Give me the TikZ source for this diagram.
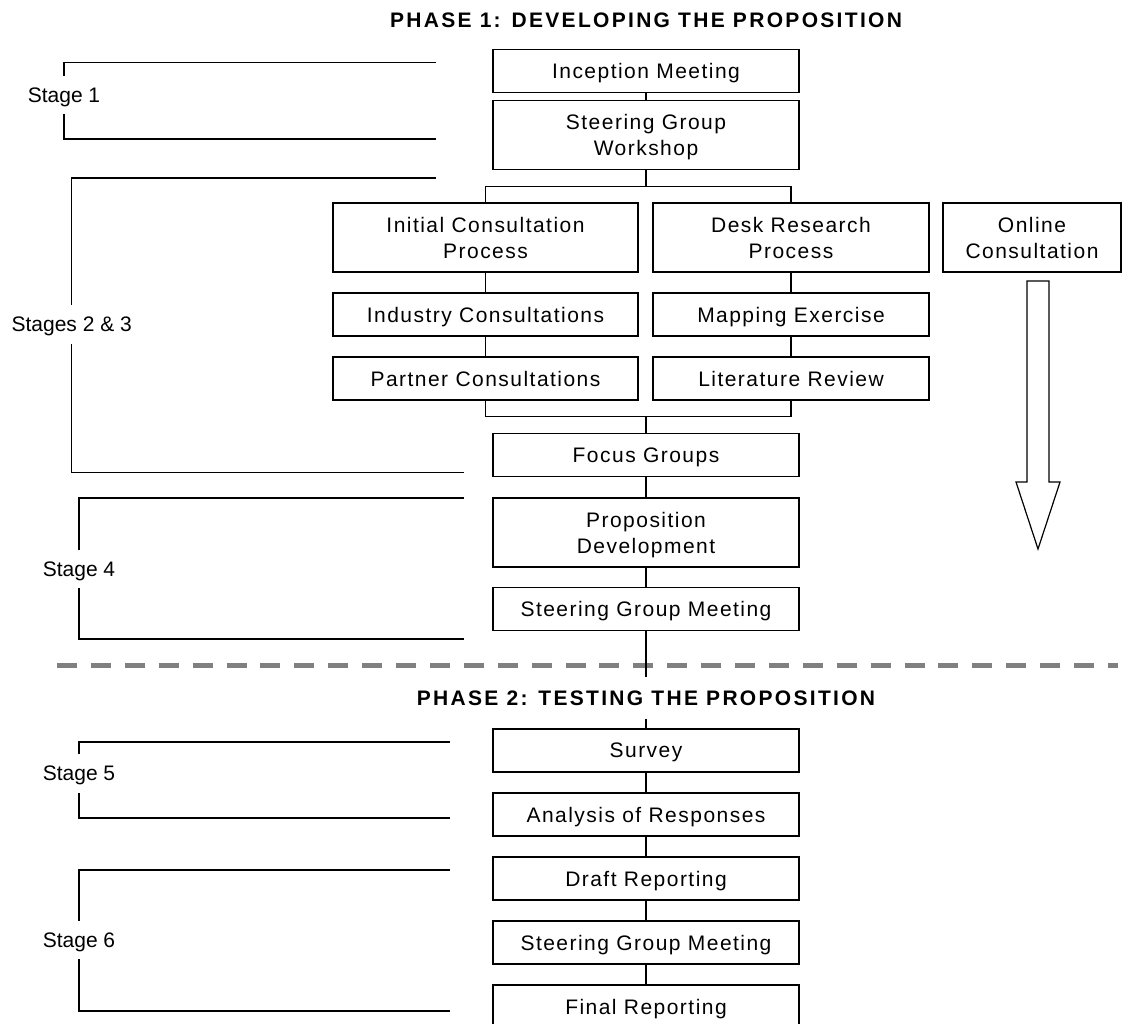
\documentclass[tikz,border=0pt]{standalone}
\usepackage{fontspec}
\setmainfont{Liberation Sans}
\newfontfamily\boxfont[LetterSpace=7]{Liberation Sans}
\newfontfamily\phasefont[LetterSpace=11]{Liberation Sans}
\usetikzlibrary{calc, positioning}
\definecolor{dashgrey}{RGB}{128,128,128}
\tikzset{>=stealth,
  link/.style={line width=1.4pt},
  stepbox/.style={draw, link, minimum width=306pt, minimum height=43pt, inner sep=0pt, text depth=0pt, align=center, font=\boxfont\fontsize{21}{26}\selectfont},
  tallbox/.style={stepbox, minimum height=69pt},
  stagelbl/.style={inner sep=0pt, minimum height=38pt, text depth=0pt, font=\fontsize{21}{26}\selectfont},
  phase/.style={inner sep=0pt, font=\phasefont\bfseries\fontsize{21}{26}\selectfont}}

\begin{document}
\begin{tikzpicture}[x=1pt, y=-1pt]
	\useasboundingbox (0,0) rectangle (1123,1023);

	\node[phase] (ph1) at (646,20) {PHASE 1: DEVELOPING THE PROPOSITION};

	% main column, phase 1
	\node[stepbox] (incep) at (646,71) {Inception Meeting};
	\node[tallbox] (sgw) at (646,135) {Steering Group\\Workshop};
	\node[tallbox, minimum width=305pt] (icp) at (485.5,237.5) {Initial Consultation\\Process};
	\node[tallbox, minimum width=276pt] (drp) at (791,237.5) {Desk Research\\Process};
	\node[tallbox, minimum width=178pt] (online) at (1032,237.5) {Online\\Consultation};
	\node[stepbox, minimum width=305pt] (ic) at (485.5,314.5) {Industry Consultations};
	\node[stepbox, minimum width=276pt] (me) at (791,314.5) {Mapping Exercise};
	\node[stepbox, minimum width=305pt] (pc) at (485.5,378.5) {Partner Consultations};
	\node[stepbox, minimum width=276pt] (lr) at (791,378.5) {Literature Review};
	\node[stepbox] (focus) at (646,455) {Focus Groups};
	\node[tallbox] (propdev) at (646,532.5) {Proposition\\Development};
	\node[stepbox] (sgm1) at (646,609) {Steering Group Meeting};

	\draw[link] (incep) -- (sgw);
	\coordinate (fork) at (646,186.7);
	\draw[link] (sgw) -- (fork);
	\draw[link] (icp.north) |- (fork) -| (drp.north);
	\draw[link] (icp) -- (ic);
	\draw[link] (ic) -- (pc);
	\draw[link] (drp) -- (me);
	\draw[link] (me) -- (lr);
	\coordinate (join) at (646,416.7);
	\draw[link] (pc.south) |- (join) -| (lr.south);
	\draw[link] (join) -- (focus);
	\draw[link] (focus) -- (propdev);
	\draw[link] (propdev) -- (sgm1);

	% block arrow under the online box
	\draw[line width=1.2pt] (1027,281) -- (1049,281) -- (1049,482) -- (1060,482) -- (1038,549) -- (1016,482) -- (1027,482) -- cycle;

	% stage brackets
	\node[stagelbl] (st1) at (64,95) {Stage 1};
	\draw[link] (436,62.7) -| (st1.north);
	\draw[link] (st1.south) |- (436,139);
	\node[stagelbl, minimum height=39pt] (st23) at (71.7,324.5) {Stages 2 \& 3};
	\draw[link] (436,178) -| (st23.north);
	\draw[link] (st23.south) |- (464,472.3);
	\node[stagelbl] (st4) at (79,569) {Stage 4};
	\draw[link] (464,498) -| (st4.north);
	\draw[link] (st4.south) |- (464,639);
	\node[stagelbl, minimum height=39pt] (st5) at (79,773.5) {Stage 5};
	\draw[link] (450,742) -| (st5.north);
	\draw[link] (st5.south) |- (450,818);
	\node[stagelbl] (st6) at (79,940) {Stage 6};
	\draw[link] (450,870) -| (st6.north);
	\draw[link] (st6.south) |- (450,1011);

	% phase divider
	\draw[dashgrey, line width=4.7pt, dash pattern=on 20pt off 13.9pt] (57,665.7) -- (1118,665.7);

	% main column, phase 2
	\node[stepbox] (survey) at (646,750.5) {Survey};
	\node[stepbox] (analysis) at (646,814.5) {Analysis of Responses};
	\node[stepbox] (draft) at (646,878.5) {Draft Reporting};
	\node[stepbox] (sgm2) at (646,942.5) {Steering Group Meeting};
	\node[stepbox] (final) at (646,1006.5) {Final Reporting};

	\draw[link] (sgm1) -- (survey);
	\node[phase, fill=white, minimum height=42pt] (ph2) at (646,698) {PHASE 2: TESTING THE PROPOSITION};
	\draw[link] (survey) -- (analysis);
	\draw[link] (analysis) -- (draft);
	\draw[link] (draft) -- (sgm2);
	\draw[link] (sgm2) -- (final);
\end{tikzpicture}
\end{document}
